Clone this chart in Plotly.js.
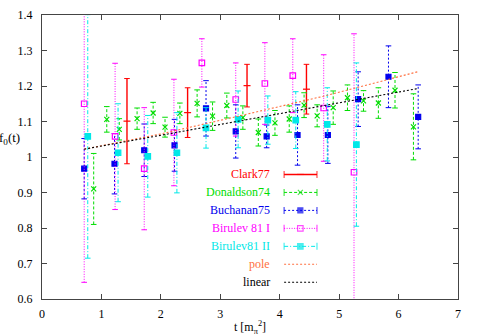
<!DOCTYPE html>
<html>
<head>
<meta charset="utf-8">
<script src="https://cdn.plot.ly/plotly-3.0.1.min.js"></script>
<style>
  body { margin: 0; background: #fff; }
  #chart { width: 479px; height: 335px; }
</style>
</head>
<body>
<div id="chart"></div>
<script>
// values
const clarkT = [1.43, 2.45, 3.45, 4.45];
const clarkF = [1.101, 1.125, 1.201, 1.191];
const clarkErr = [0.12, 0.07, 0.06, 0.07];

const donT = [0.87, 1.09, 1.30, 1.60, 1.87, 2.07, 2.32, 2.61, 2.87, 3.11, 3.38,
              3.64, 3.92, 4.16, 4.41, 4.63, 4.90, 5.14, 5.41, 5.66, 5.94, 6.25];
const donF = [0.910, 1.106, 1.078, 1.108, 1.124, 1.084, 1.123, 1.151, 1.115, 1.145, 1.111,
              1.069, 1.096, 1.107, 1.146, 1.116, 1.139, 1.167, 1.158, 1.152, 1.188, 1.085];
const donErr = [0.10, 0.036, 0.03, 0.03, 0.03, 0.028, 0.029, 0.038, 0.04, 0.035, 0.033,
                0.038, 0.035, 0.037, 0.035, 0.031, 0.047, 0.036, 0.029, 0.043, 0.05, 0.093];

const buchT = [0.71, 1.22, 1.72, 2.23, 2.76, 3.26, 3.78, 4.30, 4.81, 5.32, 5.83, 6.33];
const buchF = [0.967, 0.981, 1.019, 1.033, 1.137, 1.072, 1.058, 1.062, 1.062, 1.163, 1.226, 1.113];
const buchErr = [0.085, 0.085, 0.074, 0.073, 0.078, 0.075, 0.032, 0.085, 0.08, 0.077, 0.087, 0.09];

const bir1T = [0.71, 1.23, 1.72, 2.22, 2.69, 3.26, 3.75, 4.22, 4.74, 5.25];
const bir1F = [1.150, 1.058, 0.967, 1.069, 1.265, 1.162, 1.207, 1.229, 1.138, 0.957];
const bir1Err = [0.503, 0.206, 0.172, 0.15, 0.068, 0.103, 0.115, 0.104, 0.15, 0.39];

const bir2T = [0.77, 1.28, 1.78, 2.27, 2.76, 3.30, 3.80, 4.27, 4.80, 5.29];
const bir2F = [1.058, 1.012, 1.002, 1.012, 1.082, 1.106, 1.104, 1.104, 1.092, 1.035];
const bir2Err = [0.343, 0.138, 0.115, 0.113, 0.057, 0.08, 0.068, 0.08, 0.103, 0.23];

const poleT = [0.71, 2.0, 3.33, 4.73, 6.32];
const poleF = [1.022, 1.065, 1.116, 1.171, 1.240];
const linT = [0.71, 6.33];
const linF = [1.022, 1.193];

const xTicks = [0, 1, 2, 3, 4, 5, 6, 7];
const yTicks = [0.6, 0.7, 0.8, 0.9, 1.0, 1.1, 1.2, 1.3, 1.4];
const yTickText = ["0.6", "0.7", "0.8", "0.9", "1", "1.1", "1.2", "1.3", "1.4"];

const FONT = "Liberation Serif";

// series styles (gnuplot look)
const series = [
    {name: "Clark77", t: clarkT, f: clarkF, e: clarkErr, color: "#ff0000", dash: "solid", width: 1.4,
     sym: "line-ew-open", size: 5},
    {name: "Donaldson74", t: donT, f: donF, e: donErr, color: "#00dd00", dash: "3px,2px", width: 1,
     sym: "x-thin-open", size: 5},
    {name: "Buchanan75", t: buchT, f: buchF, e: buchErr, color: "#0000ee", dash: "2px,2px", width: 1,
     sym: "square", size: 5},
    {name: "Birulev 81 I", t: bir1T, f: bir1F, e: bir1Err, color: "#ff00ff", dash: "1px,1.5px", width: 1,
     sym: "square-open", size: 5.5},
    {name: "Birulev81 II", t: bir2T, f: bir2F, e: bir2Err, color: "#00e8e8", dash: "4px,2px,1px,2px", width: 1,
     sym: "square", size: 5.5}
];
const lines = [
    {name: "pole", t: poleT, f: poleF, color: "#ff7040"},
    {name: "linear", t: linT, f: linF, color: "#000000"}
];

function errorTraces(s) {
    const bx = [], by = [];
    for (let i = 0; i < s.t.length; i++) {
        bx.push(s.t[i], s.t[i], null);
        by.push(s.f[i] - s.e[i], s.f[i] + s.e[i], null);
    }
    return [
        {x: bx, y: by, mode: "lines+markers", hoverinfo: "skip",
         line: {color: s.color, width: s.width, dash: s.dash},
         marker: {symbol: "line-ew-open", size: 4, color: s.color, line: {color: s.color, width: 1}}},
        {x: s.t, y: s.f, mode: "markers", hoverinfo: "skip",
         marker: {symbol: s.sym, size: s.size, color: s.color, line: {color: s.color, width: 1.2}}}
    ];
}

const data = [];
series.forEach(s => errorTraces(s).forEach(tr => data.push(tr)));
lines.forEach(l => data.push({x: l.t, y: l.f, mode: "lines", hoverinfo: "skip",
                              line: {color: l.color, width: 1.1, dash: "2px,2px"}}));

// hand-made gnuplot style key (text on the left, sample on the right)
const keyTop = 0.4386, keyStep = 0.0633, keyTextX = 0.553;
const keyX = [0.582, 0.621, 0.661];
const annotations = [];
const keyItems = series.concat(lines);
keyItems.forEach((s, i) => {
    const ky = keyTop - i * keyStep;
    annotations.push({xref: "paper", yref: "paper", x: keyTextX, y: ky, xanchor: "right", yanchor: "middle",
                      text: s.name, showarrow: false, font: {family: FONT, size: 12, color: s.color}});
    if (s.e) {
        data.push({x: keyX, y: [ky, ky, ky], xaxis: "x2", yaxis: "y2", mode: "lines+markers", hoverinfo: "skip",
                   line: {color: s.color, width: s.width, dash: s.dash},
                   marker: {symbol: ["line-ns-open", s.sym, "line-ns-open"], size: [5, s.size, 5],
                            color: s.color, line: {color: s.color, width: 1.2}}});
    } else {
        data.push({x: [keyX[0], keyX[2]], y: [ky, ky], xaxis: "x2", yaxis: "y2", mode: "lines", hoverinfo: "skip",
                   line: {color: s.color, width: 1.1, dash: "2px,2px"}});
    }
});

annotations.push({xref: "paper", yref: "paper", x: -0.048, y: 0.566, xanchor: "right", yanchor: "middle",
                  text: "f<sub>0</sub>(t)", showarrow: false, font: {family: FONT, size: 13, color: "#000"}});
annotations.push({xref: "paper", yref: "paper", x: 0.5, y: -0.1, xanchor: "center", yanchor: "middle",
                  text: "t [m<sub>π</sub><sup>2</sup>]", showarrow: false, font: {family: FONT, size: 12, color: "#000"}});

const axisStyle = {
    showline: true, linecolor: "#444", linewidth: 1, mirror: "allticks",
    ticks: "inside", ticklen: 5, tickcolor: "#444", tickwidth: 1,
    showgrid: false, zeroline: false,
    tickfont: {family: FONT, size: 12, color: "#000"}
};

const layout = {
    width: 479, height: 335,
    margin: {l: 42, r: 21, t: 15, b: 36},
    paper_bgcolor: "#fff", plot_bgcolor: "#fff",
    showlegend: false,
    font: {family: FONT, size: 12, color: "#000"},
    xaxis: Object.assign({range: [0, 7], tickvals: xTicks, ticklabelstandoff: 4}, axisStyle),
    yaxis: Object.assign({range: [0.6, 1.4], tickvals: yTicks, ticktext: yTickText, ticklabelstandoff: 6}, axisStyle),
    xaxis2: {overlaying: "x", range: [0, 1], visible: false},
    yaxis2: {overlaying: "y", range: [0, 1], visible: false},
    annotations: annotations
};

const config = {displayModeBar: false, staticPlot: true};

Plotly.newPlot("chart", data, layout, config);
</script>
</body>
</html>
